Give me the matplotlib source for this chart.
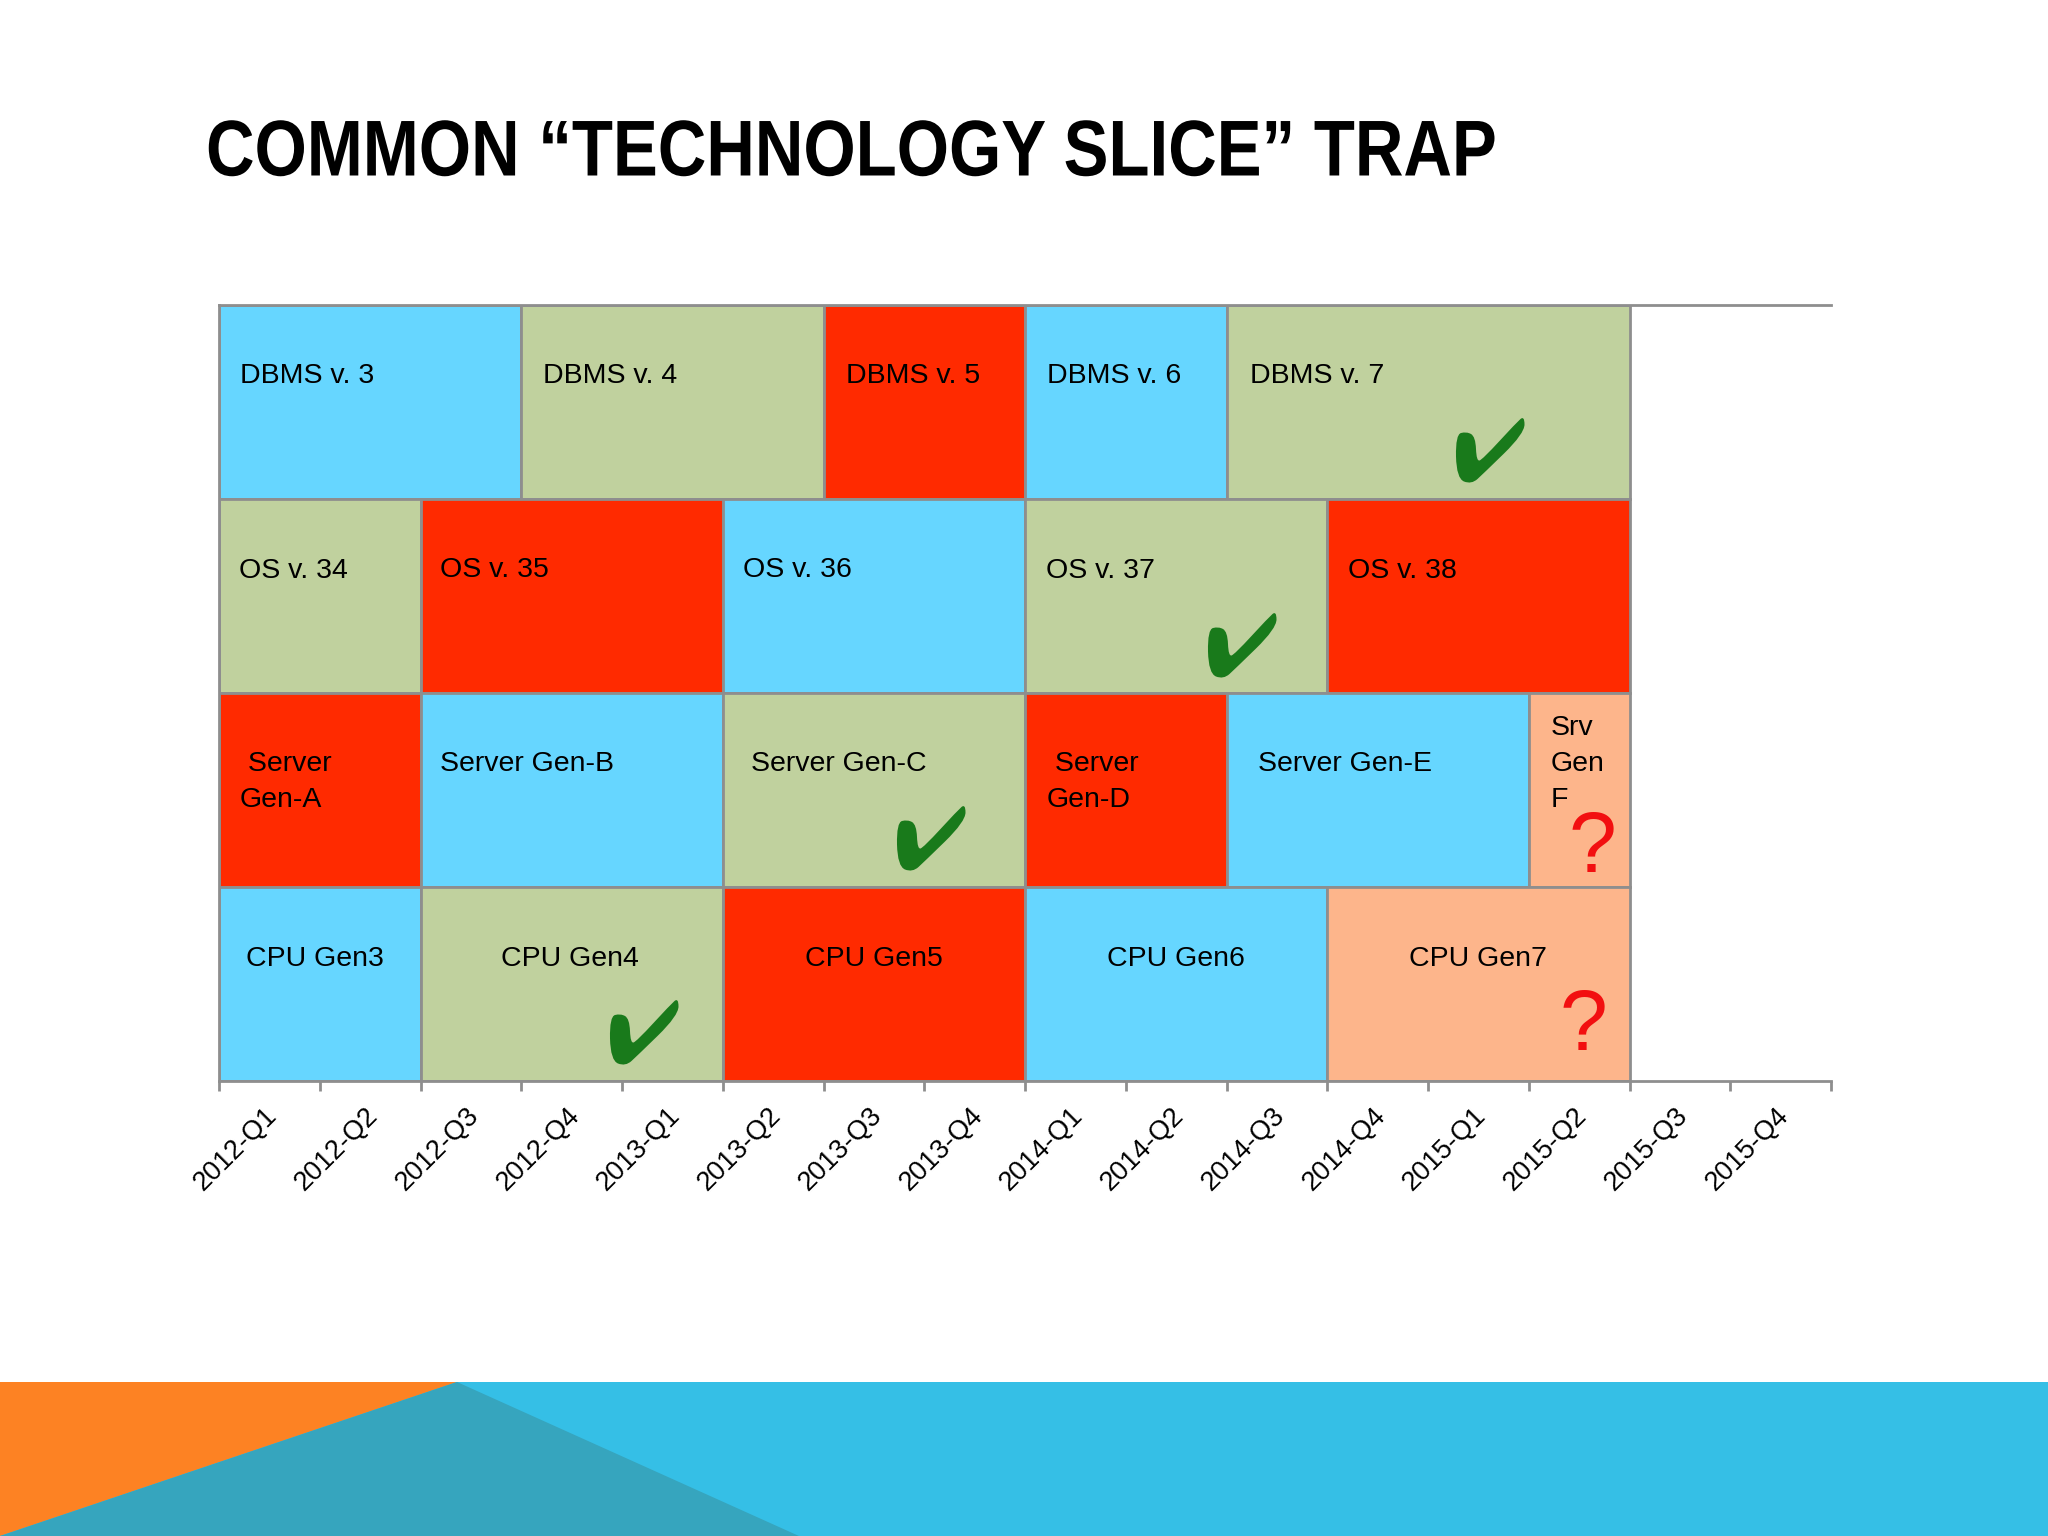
# -*- coding: utf-8 -*-
"""Gantt style slide: common "technology slice" trap."""
import matplotlib
matplotlib.use("Agg")
import matplotlib.patheffects as pe
import matplotlib.pyplot as plt
from matplotlib.patches import Polygon
from matplotlib.path import Path
from matplotlib.transforms import Affine2D

quarters = ["2012-Q1", "2012-Q2", "2012-Q3", "2012-Q4",
            "2013-Q1", "2013-Q2", "2013-Q3", "2013-Q4",
            "2014-Q1", "2014-Q2", "2014-Q3", "2014-Q4",
            "2015-Q1", "2015-Q2", "2015-Q3", "2015-Q4"]

dbms_names = ["DBMS v. 3", "DBMS v. 4", "DBMS v. 5", "DBMS v. 6", "DBMS v. 7"]
dbms_start = [0, 3, 6, 8, 10]
dbms_len = [3, 3, 2, 2, 4]
dbms_kind = ["blue", "green", "red", "blue", "green"]

os_names = ["OS v. 34", "OS v. 35", "OS v. 36", "OS v. 37", "OS v. 38"]
os_start = [0, 2, 5, 8, 11]
os_len = [2, 3, 3, 3, 3]
os_kind = ["green", "red", "blue", "green", "red"]

srv_names = [" Server\nGen-A", "Server Gen-B", "Server Gen-C", " Server\nGen-D", "Server Gen-E", "Srv\nGen\nF"]
srv_start = [0, 2, 5, 8, 10, 13]
srv_len = [2, 3, 3, 2, 3, 1]
srv_kind = ["red", "blue", "green", "red", "blue", "orange"]

cpu_names = ["CPU Gen3", "CPU Gen4", "CPU Gen5", "CPU Gen6", "CPU Gen7"]
cpu_start = [0, 2, 5, 8, 11]
cpu_len = [2, 3, 3, 3, 3]
cpu_kind = ["blue", "green", "red", "blue", "orange"]

# check marks / question marks: quarter position, row position
check_x = [12.62, 10.15, 7.07, 4.22]
check_y = [0.235, 1.24, 2.235, 3.235]
query_x = [13.63, 13.54]
query_y = [2.31, 3.225]

# --- styles ---
COLORES = {"blue": "#66D6FF", "green": "#C0D19E", "red": "#FF2A00", "orange": "#FDB58B"}
GRIS = "#8E8E8E"
FUENTE = ["Liberation Sans", "DejaVu Sans"]
W, H = 2048, 1536
AX_L, AX_R, AX_T, AX_B = 219, 1831, 305, 1081

filas = [
    (dbms_names, dbms_start, dbms_len, dbms_kind, [21, 22, 23, 22, 23], [26, 26, 26, 26, 26], "left"),
    (os_names, os_start, os_len, os_kind, [20, 20, 20, 21, 21], [25, 26, 26, 25, 25], "left"),
    (srv_names, srv_start, srv_len, srv_kind, [21, 20, 28, 22, 31, 22], [8, 26, 26, 8, 26, 26], "left"),
    (cpu_names, cpu_start, cpu_len, cpu_kind, [-5, -2, 0, 0, 0], [25, 25, 25, 25, 25], "center"),
]


class Estrechar(pe.AbstractPathEffect):
    # there is no condensed bold installed, so squeeze the title horizontally
    def __init__(self, x0, sx):
        super().__init__()
        self.x0, self.sx = x0, sx

    def draw_path(self, renderer, gc, tpath, affine, rgbFace=None):
        extra = Affine2D().translate(-self.x0, 0).scale(self.sx, 1).translate(self.x0, 0)
        renderer.draw_path(gc, tpath, affine + extra, rgbFace)


fig = plt.figure(figsize=(W / 100, H / 100), dpi=100, facecolor="white")

# slide background band
bg = fig.add_axes([0, 0, 1, 1], zorder=0)
bg.set_xlim(0, W)
bg.set_ylim(H, 0)
bg.axis("off")
bg.add_patch(Polygon([(0, 1382), (W, 1382), (W, H), (0, H)], fc="#35BFE6", ec="none"))
bg.add_patch(Polygon([(0, 1382), (457, 1382), (0, H)], fc="#FD8223", ec="none"))
bg.add_patch(Polygon([(457, 1382), (799, H), (0, H)], fc="#36A5BE", ec="none"))
titulo = bg.text(206, 155, "COMMON \u201cTECHNOLOGY SLICE\u201d TRAP", fontsize=57, fontweight="bold",
                 family=FUENTE, color="black", va="center", ha="left")
titulo.set_path_effects([Estrechar(206, 0.849)])

ax = fig.add_axes([AX_L / W, 1 - AX_B / H, (AX_R - AX_L) / W, (AX_B - AX_T) / H], zorder=1)
ax.patch.set_alpha(0)

for fila, (nombres, inicio, largo, tipo, dxs, dys, ha) in enumerate(filas):
    ax.barh([fila] * len(nombres), largo, left=inicio, height=1,
            color=[COLORES[t] for t in tipo], edgecolor=GRIS, linewidth=2)
    for nombre, i0, n, dx, dy in zip(nombres, inicio, largo, dxs, dys):
        x = i0 if ha == "left" else i0 + n / 2
        ax.annotate(nombre, (x, fila), xytext=(dx, dy), textcoords="offset pixels",
                    ha=ha, va="center", fontsize=20.5, family=FUENTE, color="black", linespacing=1.5)

ax.set_xlim(0, len(quarters))
ax.set_ylim(3.5, -0.5)
ax.set_yticks([])
ax.spines["right"].set_visible(False)
for lado in ["top", "bottom", "left"]:
    ax.spines[lado].set_color(GRIS)
    ax.spines[lado].set_linewidth(2)

ax.set_xticks(range(len(quarters) + 1))
ax.set_xticklabels([])
ax.tick_params(axis="x", which="major", length=7, width=2, color=GRIS)
ax.set_xticks([i + 0.54 for i in range(len(quarters))], minor=True)
ax.set_xticklabels(quarters, minor=True, rotation=45, ha="right", va="center",
                   rotation_mode="anchor", fontsize=19.5, family=FUENTE)
ax.tick_params(axis="x", which="minor", length=0, pad=22)

# check mark outline: control points of a closed smooth curve (centred, pixels, y up)
control = [(34, 33), (34, 15), (-7, -25), (-19, -36), (-34, -30), (-35, 14),
           (-24, 17), (-15, 12), (-14, -13), (-8, -11), (26, 26)]
puntos = [((control[-1][0] + control[0][0]) / 2, (control[-1][1] + control[0][1]) / 2)]
codigos = [Path.MOVETO]
for i, c in enumerate(control):
    sig = control[(i + 1) % len(control)]
    puntos += [c, ((c[0] + sig[0]) / 2, (c[1] + sig[1]) / 2)]
    codigos += [Path.CURVE3, Path.CURVE3]
forma = Path(puntos, codigos)
# custom markers are rescaled to their largest coordinate, 36 px here
ax.plot(check_x, check_y, ls="none", marker=forma, ms=2 * 36 * 0.72, mfc="#197A1B", mec="none", zorder=5)

for qx, qy in zip(query_x, query_y):
    ax.text(qx, qy, "?", color="#F20F10", fontsize=62, family=FUENTE, ha="center", va="center", zorder=5)

fig.savefig("out.png", dpi=100)
